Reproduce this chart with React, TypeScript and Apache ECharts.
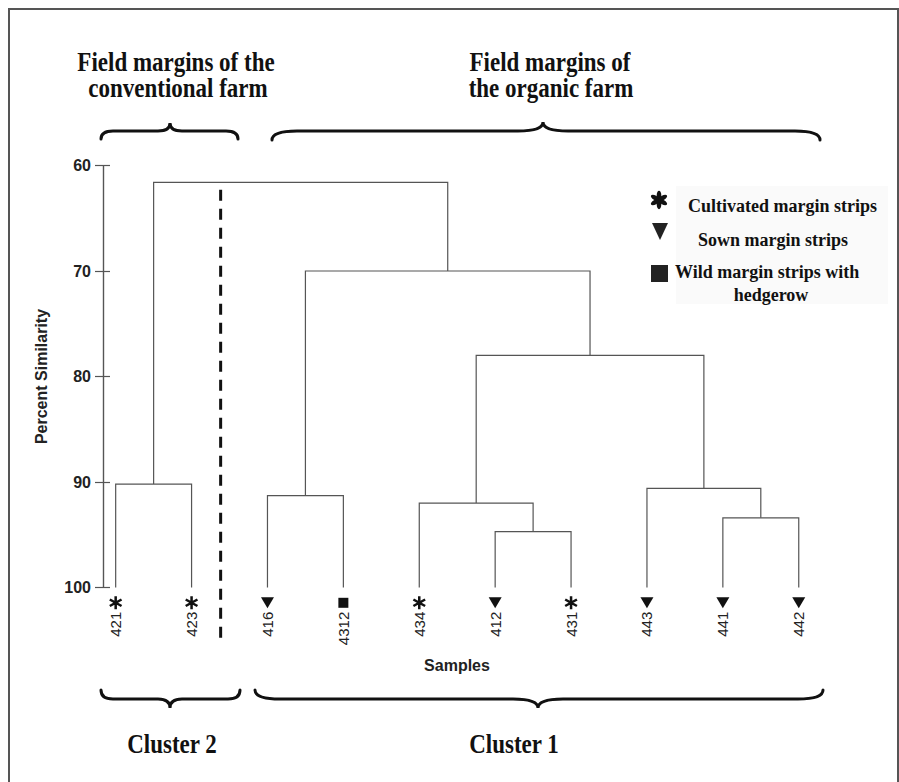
import React, { useEffect, useRef } from "react";
import * as echarts from "echarts";

// ---------- data ----------
const sampleNames = ["421", "423", "416", "4312", "434", "412", "431", "443", "441", "442"];
const sampleTypes = ["cultivated", "cultivated", "sown", "wild", "cultivated", "sown", "cultivated", "sown", "sown", "sown"];
// linkage: merge k creates node id (10 + k)
const mergeLeft = [0, 2, 5, 4, 8, 7, 13, 11, 10];
const mergeRight = [1, 3, 6, 12, 9, 14, 15, 16, 17];
const mergeSimilarity = [90.2, 91.3, 94.7, 92.0, 93.4, 90.6, 78.0, 70.0, 61.6];
const yTickMin = 60;
const yTickMax = 100;
const yTickStep = 10;
const leafLevel = 100;
const markerLevel = 101.45;
const labelLevel = 102.3;
const dividerPosition = 1.383;
const dividerTop = 62.3;
const dividerBottom = 105.0;
const legendLabels = ["Cultivated margin strips", "Sown margin strips", "Wild margin strips with", "hedgerow"];
const topTitles = [["Field margins of the", "conventional farm"], ["Field margins of", "the organic farm"]];
const clusterLabels = ["Cluster 2", "Cluster 1"];

// ---------- shapes ----------
const Brace = echarts.graphic.extendShape({
  shape: { x1: 0, x2: 0, xm: 0, y: 0, end: 0, tip: 0, r: 10 },
  buildPath(ctx: any, s: any) {
    const { x1, x2, xm, y, end, tip, r } = s;
    ctx.moveTo(x1, y + end);
    ctx.quadraticCurveTo(x1, y, x1 + r, y);
    ctx.lineTo(xm - r, y);
    ctx.quadraticCurveTo(xm, y, xm, y + tip);
    ctx.quadraticCurveTo(xm, y, xm + r, y);
    ctx.lineTo(x2 - r, y);
    ctx.quadraticCurveTo(x2, y, x2, y + end);
  },
});
echarts.graphic.registerShape("brace", Brace);

const asteriskPath =
  "path://M5.7,0L8.3,0L8.3,14L5.7,14Z" +
  "M12.412,2.374L13.712,4.626L1.588,11.626L0.288,9.374Z" +
  "M13.712,9.374L12.412,11.626L0.288,4.626L1.588,2.374Z";

const SANS = "'Liberation Sans', Arial, sans-serif";
const SERIF = "'Liberation Serif', 'Times New Roman', serif";

function buildTree() {
  const xs: number[] = sampleNames.map((_, i) => i);
  const hs: number[] = sampleNames.map(() => leafLevel);
  const segs: number[][] = [];
  mergeLeft.forEach((l, k) => {
    const r = mergeRight[k];
    const h = mergeSimilarity[k];
    segs.push([xs[l], hs[l], xs[r], hs[r], h]);
    xs.push((xs[l] + xs[r]) / 2);
    hs.push(h);
  });
  return segs;
}

export default function App() {
  const ref = useRef<HTMLDivElement>(null);
  useEffect(() => {
    if (!ref.current) return;
    const chart = echarts.init(ref.current, null, { renderer: "svg" });
    const segs = buildTree();
    const typeData = (t: string) =>
      sampleTypes.map((s, i) => (s === t ? [i, markerLevel] : null)).filter((d) => d !== null);

    const gridBox = { left: 103, top: 165.5, width: 733.7, height: 422 };
    const axisCommon = {
      type: "value",
      inverse: true,
      min: yTickMin,
      max: yTickMax,
      interval: yTickStep,
      position: "left",
      splitLine: { show: false },
      axisLine: { show: true, onZero: false, lineStyle: { color: "#555", width: 1.2 } },
    };

    const titleText = (text: string, x: number, y: number, size = 23) => ({
      type: "text",
      x,
      y,
      scaleY: 1.15,
      style: {
        text,
        fill: "#111",
        font: `bold ${size}px ${SERIF}`,
        align: "center",
        verticalAlign: "middle",
      },
    });
    const legendText = (text: string, x: number, y: number, align = "left") => ({
      type: "text",
      x,
      y,
      style: {
        text,
        fill: "#111",
        font: `bold 18px ${SERIF}`,
        align,
        verticalAlign: "middle",
      },
    });
    const brace = (x1: number, x2: number, xm: number, y: number, end: number, tip: number, r: number) => ({
      type: "brace",
      shape: { x1, x2, xm, y, end, tip, r },
      style: { stroke: "#111", lineWidth: 3, fill: null, lineCap: "round" },
    });
    const petals = [0, 1, 2, 3, 4, 5].map((k) => ({
      type: "ellipse",
      x: 659,
      y: 200,
      rotation: (k * Math.PI) / 3,
      shape: { cx: 0, cy: -4.6, rx: 2.3, ry: 4.6 },
      style: { fill: "#111" },
    }));

    chart.setOption({
      animation: false,
      backgroundColor: "#fff",
      grid: [{ ...gridBox }, { ...gridBox }],
      xAxis: [
        { type: "value", gridIndex: 0, min: -0.167, max: 9.5, show: false },
        { type: "value", gridIndex: 1, min: -0.167, max: 9.5, show: false },
      ],
      yAxis: [
        {
          ...axisCommon,
          gridIndex: 0,
          axisTick: { show: true, length: 8, lineStyle: { color: "#555", width: 1.2 } },
          axisLabel: {
            show: true,
            margin: 12,
            color: "#222",
            fontSize: 16,
            fontWeight: "bold",
            fontFamily: SANS,
          },
          name: "Percent Similarity",
          nameLocation: "middle",
          nameGap: 54,
          nameTextStyle: { color: "#222", fontSize: 16, fontWeight: "bold", fontFamily: SANS },
        },
        {
          ...axisCommon,
          gridIndex: 1,
          axisTick: { show: true, inside: true, length: 7, lineStyle: { color: "#555", width: 1.2 } },
          axisLabel: { show: false },
        },
      ],
      series: [
        {
          type: "custom",
          clip: false,
          data: segs,
          encode: { x: [0, 2], y: [1, 3, 4] },
          renderItem: (params: any, api: any) => {
            const p1 = api.coord([api.value(0), api.value(1)]);
            const p2 = api.coord([api.value(0), api.value(4)]);
            const p3 = api.coord([api.value(2), api.value(4)]);
            const p4 = api.coord([api.value(2), api.value(3)]);
            return {
              type: "polyline",
              shape: { points: [p1, p2, p3, p4] },
              style: { stroke: "#555", lineWidth: 1.2, fill: null },
            };
          },
        },
        {
          type: "custom",
          clip: false,
          data: [[dividerPosition, dividerTop, dividerBottom]],
          encode: { x: 0, y: [1, 2] },
          renderItem: (params: any, api: any) => {
            const a = api.coord([api.value(0), api.value(1)]);
            const b = api.coord([api.value(0), api.value(2)]);
            return {
              type: "line",
              shape: { x1: a[0], y1: a[1], x2: b[0], y2: b[1] },
              style: { stroke: "#111", lineWidth: 3, lineDash: [11, 8] },
            };
          },
        },
        {
          type: "custom",
          clip: false,
          data: sampleNames.map((_, i) => [i, labelLevel]),
          encode: { x: 0, y: 1 },
          renderItem: (params: any, api: any) => {
            const p = api.coord([api.value(0), api.value(1)]);
            return {
              type: "text",
              x: p[0],
              y: p[1],
              rotation: Math.PI / 2,
              style: {
                text: sampleNames[params.dataIndex],
                fill: "#222",
                font: `15px ${SANS}`,
                align: "right",
                verticalAlign: "middle",
              },
            };
          },
        },
        {
          type: "scatter",
          clip: false,
          data: typeData("cultivated"),
          symbol: asteriskPath,
          symbolSize: [13, 13],
          itemStyle: { color: "#111", opacity: 1 },
        },
        {
          type: "scatter",
          clip: false,
          data: typeData("sown"),
          symbol: "triangle",
          symbolRotate: 180,
          symbolSize: [13, 11],
          itemStyle: { color: "#111", opacity: 1 },
        },
        {
          type: "scatter",
          clip: false,
          data: typeData("wild"),
          symbol: "rect",
          symbolSize: [10, 10],
          itemStyle: { color: "#111", opacity: 1 },
        },
      ],
      graphic: [
        {
          type: "rect",
          shape: { x: 9, y: 9, width: 889, height: 800 },
          style: { fill: null, stroke: "#555", lineWidth: 2 },
        },
        {
          type: "rect",
          shape: { x: 676, y: 186, width: 212, height: 118 },
          style: { fill: "#fafafa", stroke: null },
        },
        titleText(topTitles[0][0], 176, 62),
        titleText(topTitles[0][1], 178, 88),
        titleText(topTitles[1][0], 550, 62),
        titleText(topTitles[1][1], 551, 88),
        brace(101, 238, 170, 131, 8, -8, 12),
        brace(272, 820, 543, 131, 9, -9, 25),
        brace(101, 240, 170, 699, -9, 9, 12),
        brace(255, 823, 538, 699, -9, 9, 25),
        titleText(clusterLabels[0], 172, 744),
        titleText(clusterLabels[1], 514, 744),
        {
          type: "text",
          x: 457,
          y: 665,
          style: {
            text: "Samples",
            fill: "#222",
            font: `bold 16px ${SANS}`,
            align: "center",
            verticalAlign: "middle",
          },
        },
        ...petals,
        {
          type: "polygon",
          shape: { points: [[652, 223], [668, 223], [660, 240]] },
          style: { fill: "#222" },
        },
        {
          type: "rect",
          shape: { x: 651, y: 265, width: 17, height: 17 },
          style: { fill: "#222" },
        },
        legendText(legendLabels[0], 688, 206),
        legendText(legendLabels[1], 698, 240),
        legendText(legendLabels[2], 675, 272),
        legendText(legendLabels[3], 771, 295, "center"),
      ],
    });
    return () => chart.dispose();
  }, []);
  return (
    <div
      ref={ref}
      style={{ position: "absolute", left: 0, top: 0, width: "899px", height: "782px" }}
    />
  );
}
